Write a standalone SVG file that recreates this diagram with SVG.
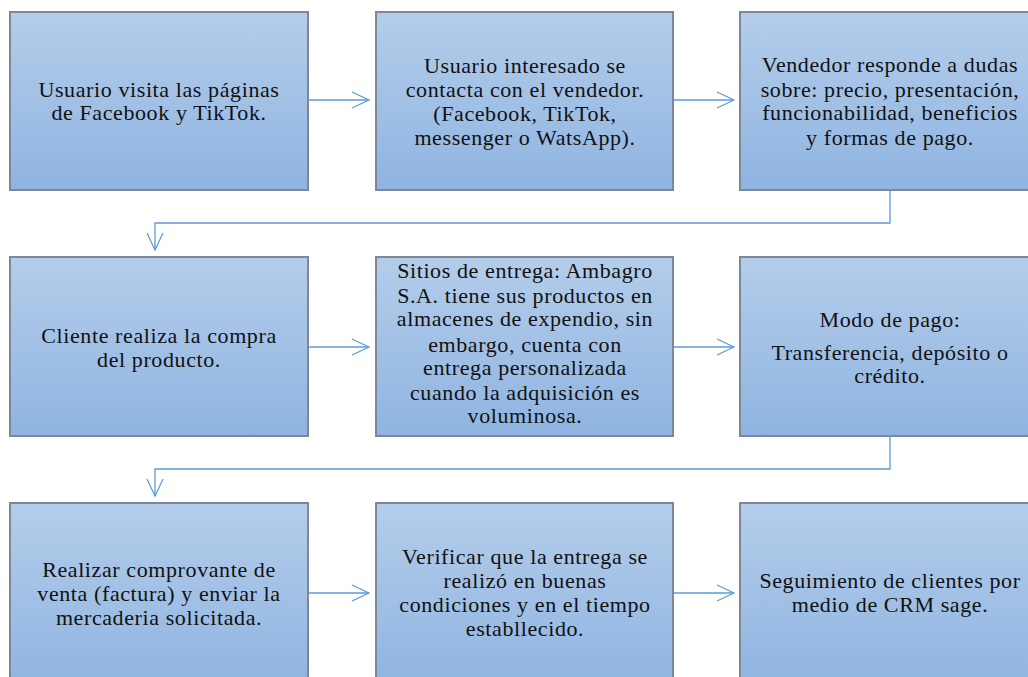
<svg xmlns="http://www.w3.org/2000/svg" width="1028" height="677" viewBox="0 0 1028 677">
<defs>
<linearGradient id="g" x1="0" y1="0" x2="0" y2="1">
<stop offset="0" stop-color="#b4cdea"/>
<stop offset="1" stop-color="#8fb4e1"/>
</linearGradient>
<marker id="a" markerUnits="userSpaceOnUse" markerWidth="20" markerHeight="20" viewBox="-18 -9 20 18" refX="0" refY="0" orient="auto">
<path d="M-17,-8 L0,0 L-17,8" fill="none" stroke="#5b9bd5" stroke-width="1.2"/>
</marker>
</defs>
<style>
.box{fill:url(#g);stroke:#7d8795;stroke-width:2}
.c{fill:none;stroke:#5b9bd5;stroke-width:1.3}
</style>
<rect width="1028" height="677" fill="#fff"/>
<g id="connectors">
<path class="c" d="M308,100 H369" marker-end="url(#a)"/>
<path class="c" d="M673,100 H734" marker-end="url(#a)"/>
<path class="c" d="M890,190 V223 H155 V250" marker-end="url(#a)"/>
<path class="c" d="M308,347 H369" marker-end="url(#a)"/>
<path class="c" d="M673,347 H734" marker-end="url(#a)"/>
<path class="c" d="M890,436 V469 H155 V496" marker-end="url(#a)"/>
<path class="c" d="M308,593 H369" marker-end="url(#a)"/>
<path class="c" d="M673,593 H734" marker-end="url(#a)"/>
</g>
<g font-family="'Liberation Serif', serif" font-size="22" letter-spacing="0.6" fill="#111" text-anchor="middle">
<g id="n1"><rect class="box" x="10" y="12" width="298" height="178"/>
<text><tspan x="159" y="97">Usuario visita las páginas</tspan><tspan x="159" y="120">de Facebook y TikTok.</tspan></text></g>
<g id="n2"><rect class="box" x="376" y="12" width="297" height="178"/>
<text><tspan x="525" y="73">Usuario interesado se</tspan><tspan x="525" y="97">contacta con el vendedor.</tspan><tspan x="525" y="121">(Facebook, TikTok,</tspan><tspan x="525" y="145">messenger o WatsApp).</tspan></text></g>
<g id="n3"><rect class="box" x="740" y="12" width="299" height="178"/>
<text><tspan x="890" y="72">Vendedor responde a dudas</tspan><tspan x="890" y="97">sobre: precio, presentación,</tspan><tspan x="890" y="120">funcionabilidad, beneficios</tspan><tspan x="890" y="145">y formas de pago.</tspan></text></g>
<g id="n4"><rect class="box" x="10" y="257" width="298" height="179"/>
<text><tspan x="159" y="343">Cliente realiza la compra</tspan><tspan x="159" y="367">del producto.</tspan></text></g>
<g id="n5"><rect class="box" x="376" y="257" width="297" height="179"/>
<text><tspan x="525" y="278">Sitios de entrega: Ambagro</tspan><tspan x="525" y="303">S.A. tiene sus productos en</tspan><tspan x="525" y="326">almacenes de expendio, sin</tspan><tspan x="525" y="352">embargo, cuenta con</tspan><tspan x="525" y="375">entrega personalizada</tspan><tspan x="525" y="400">cuando la adquisición es</tspan><tspan x="525" y="423">voluminosa.</tspan></text></g>
<g id="n6"><rect class="box" x="740" y="257" width="299" height="179"/>
<text><tspan x="890" y="327">Modo de pago:</tspan><tspan x="890" y="360">Transferencia, depósito o</tspan><tspan x="890" y="383">crédito.</tspan></text></g>
<g id="n7"><rect class="box" x="10" y="503" width="298" height="185"/>
<text><tspan x="159" y="577">Realizar comprovante de</tspan><tspan x="159" y="601">venta (factura) y enviar la</tspan><tspan x="159" y="625">mercaderia solicitada.</tspan></text></g>
<g id="n8"><rect class="box" x="376" y="503" width="297" height="185"/>
<text><tspan x="525" y="564">Verificar que la entrega se</tspan><tspan x="525" y="588">realizó en buenas</tspan><tspan x="525" y="612">condiciones y en el tiempo</tspan><tspan x="525" y="636">establlecido.</tspan></text></g>
<g id="n9"><rect class="box" x="740" y="503" width="299" height="185"/>
<text><tspan x="890" y="588">Seguimiento de clientes por</tspan><tspan x="890" y="612">medio de CRM sage.</tspan></text></g>
</g>
</svg>
